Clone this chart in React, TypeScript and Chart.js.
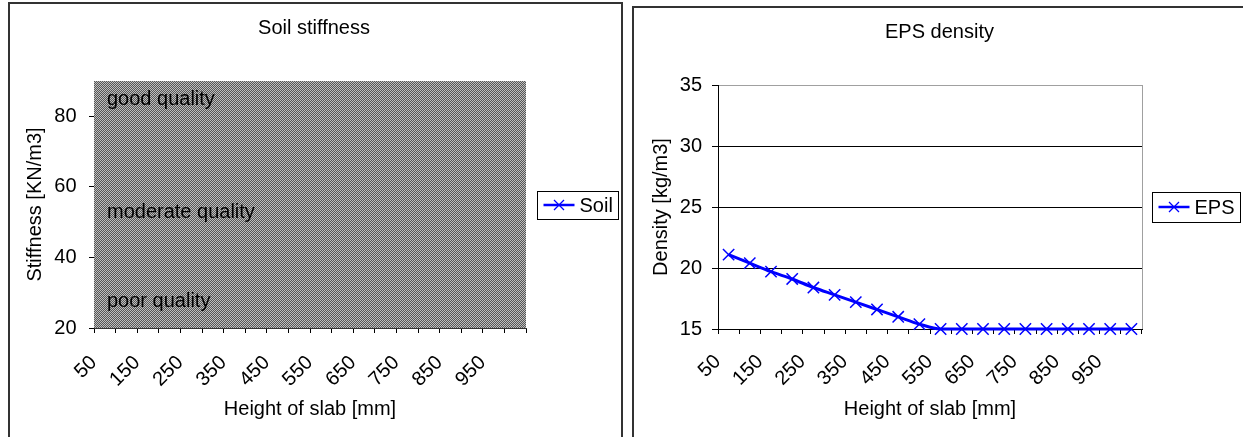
import React, { useEffect, useRef } from 'react';
import { Chart, registerables } from 'chart.js';

Chart.register(...registerables);

// ---------------- data ----------------
const slabHeights = ['50', '100', '150', '200', '250', '300', '350', '400', '450', '500',
  '550', '600', '650', '700', '750', '800', '850', '900', '950', '1000'];
const shownHeightLabels = ['50', '150', '250', '350', '450', '550', '650', '750', '850', '950'];

const soilStiffness: (number | null)[] = [null, null, null, null, null, null, null, null, null, null,
  null, null, null, null, null, null, null, null, null, null];
const epsDensity = [21.1, 20.4, 19.7, 19.1, 18.4, 17.8, 17.2, 16.6, 16.0, 15.4,
  15.0, 15.0, 15.0, 15.0, 15.0, 15.0, 15.0, 15.0, 15.0, 15.0];

const stiffnessRange = [20, 90];
const stiffnessTicks = [20, 40, 60, 80];
const densityRange = [15, 35];
const densityStep = 5;

const qualityLabels = ['good quality', 'moderate quality', 'poor quality'];
const qualityLevels = [84.8, 52.7, 27.6];

// ---------------- styles ----------------
const FONT = "'Liberation Sans', Arial, Helvetica, sans-serif";
const font20 = { family: FONT, size: 20, weight: 'normal' as const };
const BLUE = '#0000ff';

function drawLegendBox(chart: any, gap: number, boxH: number) {
  const { ctx, chartArea } = chart;
  const ds = chart.data.datasets[0];
  ctx.save();
  ctx.font = `20px ${FONT}`;
  const tw = ctx.measureText(ds.label).width;
  const pad = 6, lineLen = 31, spacing = 5;
  const w = Math.round(pad + lineLen + spacing + tw + pad);
  const x = Math.round(chartArea.right + gap) + 0.5;
  const cy = Math.round((chartArea.top + chartArea.bottom) / 2);
  const y = Math.round(cy - boxH / 2) + 0.5;
  ctx.fillStyle = '#fff';
  ctx.fillRect(x, y, w, boxH);
  ctx.strokeStyle = '#000';
  ctx.lineWidth = 1;
  ctx.strokeRect(x, y, w, boxH);
  // line sample
  ctx.strokeStyle = BLUE;
  ctx.lineWidth = 2.5;
  ctx.beginPath();
  ctx.moveTo(x + pad, cy);
  ctx.lineTo(x + pad + lineLen, cy);
  ctx.stroke();
  // cross marker
  const mx = x + pad + lineLen / 2;
  const r = 5;
  ctx.lineWidth = 1.3;
  ctx.beginPath();
  ctx.moveTo(mx - r, cy - r);
  ctx.lineTo(mx + r, cy + r);
  ctx.moveTo(mx - r, cy + r);
  ctx.lineTo(mx + r, cy - r);
  ctx.stroke();
  ctx.fillStyle = '#000';
  ctx.textBaseline = 'middle';
  ctx.textAlign = 'left';
  ctx.fillText(ds.label, x + pad + lineLen + spacing, cy + 1);
  ctx.restore();
}

function makePattern(): CanvasPattern | string {
  const c = document.createElement('canvas');
  c.width = 2;
  c.height = 2;
  const g = c.getContext('2d');
  if (!g) return '#8a8a8a';
  g.fillStyle = '#565656';
  g.fillRect(0, 0, 2, 2);
  g.fillStyle = '#bebebe';
  g.fillRect(0, 0, 1, 1);
  g.fillRect(1, 1, 1, 1);
  const p = g.createPattern(c, 'repeat');
  return p || '#8a8a8a';
}

// ---------------- chart configs ----------------
function soilConfig(): any {
  const patternPlugin = {
    id: 'patternArea',
    beforeDraw(chart: any) {
      const { ctx, chartArea } = chart;
      ctx.save();
      ctx.fillStyle = makePattern();
      ctx.fillRect(chartArea.left, chartArea.top, chartArea.right - chartArea.left, chartArea.bottom - chartArea.top);
      ctx.restore();
    },
  };
  const qualityPlugin = {
    id: 'qualityText',
    afterDatasetsDraw(chart: any) {
      const { ctx, chartArea, scales } = chart;
      ctx.save();
      ctx.font = `20px ${FONT}`;
      ctx.fillStyle = '#000';
      ctx.textAlign = 'left';
      ctx.textBaseline = 'middle';
      qualityLabels.forEach((t, i) => {
        ctx.fillText(t, chartArea.left + 13, scales.y.getPixelForValue(qualityLevels[i]));
      });
      ctx.restore();
    },
  };
  const legendPlugin = {
    id: 'boxLegend',
    afterDraw(chart: any) { drawLegendBox(chart, 10.6, 28); },
  };
  return {
    type: 'line',
    data: {
      labels: slabHeights,
      datasets: [{
        label: 'Soil',
        data: soilStiffness,
        borderColor: BLUE,
        backgroundColor: BLUE,
        borderWidth: 3,
        pointStyle: 'crossRot',
        pointRadius: 8,
        pointBorderWidth: 1.5,
        pointBorderColor: BLUE,
        clip: false,
      }],
    },
    options: {
      animation: false,
      responsive: false,
      devicePixelRatio: 1,
      layout: { padding: { left: 0, right: 3, top: 0, bottom: 6 } },
      plugins: {
        legend: { display: false },
        tooltip: { enabled: false },
        title: {
          display: true, text: 'Soil stiffness', color: '#000', font: font20,
          padding: { top: 12, bottom: 41 },
        },
      },
      scales: {
        x: {
          type: 'category',
          offset: true,
          grid: { offset: true, drawOnChartArea: false, tickLength: 5, tickColor: '#000', color: '#000' },
          border: { display: true, color: '#333', width: 1 },
          ticks: {
            autoSkip: false, minRotation: 45, maxRotation: 45, padding: 18, labelOffset: -11,
            color: '#000', font: font20,
            callback: (_v: any, i: number) => (shownHeightLabels.includes(slabHeights[i]) ? slabHeights[i] : ''),
          },
          title: { display: true, text: 'Height of slab [mm]', color: '#000', font: font20, padding: { top: 0, bottom: 17 } },
          afterFit: (s: any) => { s.height = 110; },
        },
        y: {
          type: 'linear',
          min: stiffnessRange[0],
          max: stiffnessRange[1],
          bounds: 'data',
          grid: { drawOnChartArea: false, tickLength: 5, tickColor: '#000', color: '#000' },
          border: { display: false },
          ticks: { padding: 12.5, color: '#000', font: font20 },
          afterBuildTicks: (s: any) => { s.ticks = stiffnessTicks.map((v) => ({ value: v })); },
          title: { display: true, text: 'Stiffness [KN/m3]', color: '#000', font: font20, padding: { top: 13.6, bottom: 0 } },
          afterFit: (s: any) => { s.width = 84; },
        },
        pad: {
          type: 'linear', position: 'right', display: true,
          grid: { display: false }, ticks: { display: false }, border: { display: false },
          afterFit: (s: any) => { s.width = 92; },
        },
      },
    },
    plugins: [patternPlugin, qualityPlugin, legendPlugin],
  };
}

function epsConfig(): any {
  const framePlugin = {
    id: 'rightFrame',
    beforeDatasetsDraw(chart: any) {
      const { ctx, chartArea } = chart;
      ctx.save();
      ctx.strokeStyle = '#a0a0a0';
      ctx.lineWidth = 1;
      const x = Math.round(chartArea.right) + 0.5;
      ctx.beginPath();
      ctx.moveTo(x, chartArea.top);
      ctx.lineTo(x, chartArea.bottom);
      ctx.stroke();
      ctx.restore();
    },
  };
  const legendPlugin = {
    id: 'boxLegend',
    afterDraw(chart: any) { drawLegendBox(chart, 9.5, 30); },
  };
  return {
    type: 'line',
    data: {
      labels: slabHeights,
      datasets: [{
        label: 'EPS',
        data: epsDensity,
        borderColor: BLUE,
        backgroundColor: BLUE,
        borderWidth: 3,
        cubicInterpolationMode: 'monotone',
        pointStyle: 'crossRot',
        pointRadius: 8,
        pointBorderWidth: 1.5,
        pointBorderColor: BLUE,
        clip: false,
      }],
    },
    options: {
      animation: false,
      responsive: false,
      devicePixelRatio: 1,
      layout: { padding: { left: 0, right: 9, top: 0, bottom: 9 } },
      plugins: {
        legend: { display: false },
        tooltip: { enabled: false },
        title: {
          display: true, text: 'EPS density', color: '#000', font: font20,
          padding: { top: 12, bottom: 41 },
        },
      },
      scales: {
        x: {
          type: 'category',
          offset: true,
          grid: { offset: true, drawOnChartArea: false, tickLength: 5, tickColor: '#000', color: '#000' },
          border: { display: true, color: '#000', width: 1 },
          ticks: {
            autoSkip: false, minRotation: 45, maxRotation: 45, padding: 16, labelOffset: -11,
            color: '#000', font: font20,
            callback: (_v: any, i: number) => (shownHeightLabels.includes(slabHeights[i]) ? slabHeights[i] : ''),
          },
          title: { display: true, text: 'Height of slab [mm]', color: '#000', font: font20, padding: { top: 0, bottom: 18 } },
          afterFit: (s: any) => { s.height = 110; },
        },
        y: {
          type: 'linear',
          min: densityRange[0],
          max: densityRange[1],
          grid: {
            drawOnChartArea: true, tickLength: 6, tickColor: '#000',
            color: (c: any) => (c.tick && c.tick.value === densityRange[1] ? '#a0a0a0' : '#000'),
          },
          border: { display: true, color: '#000', width: 1 },
          ticks: { stepSize: densityStep, padding: 10, color: '#000', font: font20 },
          title: { display: true, text: 'Density [kg/m3]', color: '#000', font: font20, padding: { top: 15.7, bottom: 0 } },
          afterFit: (s: any) => { s.width = 84; },
        },
        pad: {
          type: 'linear', position: 'right', display: true,
          grid: { display: false }, ticks: { display: false }, border: { display: false },
          afterFit: (s: any) => { s.width = 103; },
        },
      },
    },
    plugins: [framePlugin, legendPlugin],
  };
}

// ---------------- components ----------------
function ChartCanvas({ make, width, height }: { make: () => any; width: number; height: number }) {
  const ref = useRef<HTMLCanvasElement>(null);
  useEffect(() => {
    if (!ref.current) return;
    const chart = new Chart(ref.current, make());
    return () => chart.destroy();
  }, []);
  return <canvas ref={ref} width={width} height={height} style={{ display: 'block', width, height }} />;
}

export default function App() {
  const frame = '2px solid #333';
  return (
    <div style={{ position: 'fixed', left: 0, top: 0, width: 1243, height: 437, overflow: 'hidden', background: '#fff' }}>
      <div style={{ position: 'absolute', left: 8, top: 2, width: 615, height: 460, border: frame, boxSizing: 'border-box', background: '#fff' }}>
        <ChartCanvas make={soilConfig} width={611} height={440} />
      </div>
      <div style={{ position: 'absolute', left: 632, top: 6, width: 624, height: 460, border: frame, boxSizing: 'border-box', background: '#fff' }}>
        <ChartCanvas make={epsConfig} width={620} height={440} />
      </div>
    </div>
  );
}
